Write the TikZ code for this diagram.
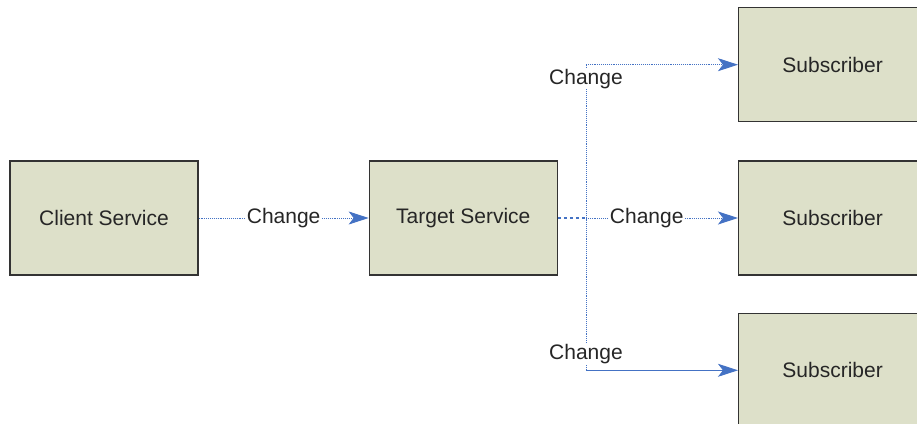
\documentclass[tikz,border=0pt]{standalone}
\usepackage{fontspec}
\setmainfont{Liberation Sans}
\usetikzlibrary{arrows.meta,positioning}
\definecolor{boxfill}{RGB}{221,224,201}
\definecolor{linkblue}{RGB}{68,114,196}

\begin{document}
\begin{tikzpicture}[x=1pt,y=1pt,font=\fontsize{21}{24}\selectfont,>={Stealth[length=20pt,width=13pt,inset=5pt]},
  svc/.style={draw=black!80,line width=1.3pt,fill=boxfill,minimum width=188pt,minimum height=114pt,inner sep=0pt,text=black!85},
  lnk/.style={draw=linkblue,densely dotted,line width=0.9pt},
  lbl/.style={fill=white,inner sep=1pt,text=black!85}]
\useasboundingbox (0,0) rectangle (917,423);
\node[svc](cs) at (104,205){Client Service};
\node[svc,right=170pt of cs](ts){Target Service};
\node[svc,right=180pt of ts](s2){Subscriber};
\node[svc,above=38pt of s2](s1){Subscriber};
\node[svc,below=37pt of s2](s3){Subscriber};
\coordinate[right=28pt of ts.east](j);
\coordinate (jt) at (j |- s1);
\coordinate (jb) at (j |- s3);
\draw[lnk,->](cs)--node[lbl](c0){Change}(ts);
\draw[draw=linkblue,dashed,line width=1.3pt](ts)--(j);
\draw[lnk](jt)--(jb);
\draw[lnk,->](j)--node[lbl,pos=0.4](c2){Change}(s2);
\draw[lnk,->](jt)--(s1);
\draw[draw=linkblue,line width=0.9pt,->](jb)--(s3);
\node[lbl,anchor=north](c1) at ([yshift=-3pt]jt){Change};
\node[lbl,anchor=south](c3) at ([yshift=5pt]jb){Change};
\end{tikzpicture}
\end{document}
